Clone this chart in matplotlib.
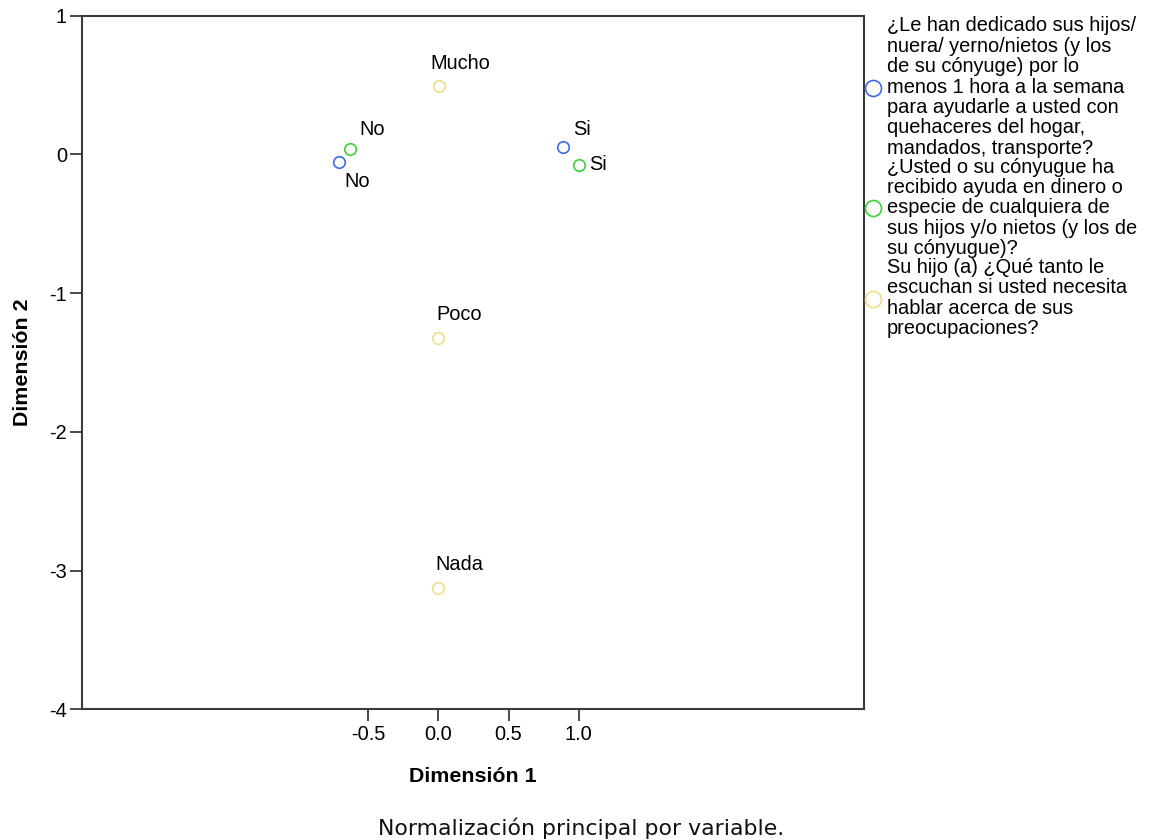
import matplotlib
matplotlib.use("Agg")
import matplotlib.pyplot as plt

# Category quantifications (principal normalization by variable)
help_cats = ["No", "Si"]
help_dim1 = [-0.707, 0.890]
help_dim2 = [-0.053, 0.056]

money_cats = ["No", "Si"]
money_dim1 = [-0.629, 1.004]
money_dim2 = [0.039, -0.076]

listen_cats = ["Mucho", "Poco", "Nada"]
listen_dim1 = [0.005, -0.004, -0.004]
listen_dim2 = [0.495, -1.322, -3.124]

var_labels = [
    "¿Le han dedicado sus hijos/\nnuera/ yerno/nietos (y los\nde su cónyuge) por lo\n"
    "menos 1 hora a la semana\npara ayudarle a usted con\nquehaceres del hogar,\n"
    "mandados, transporte?",
    "¿Usted o su cónyugue ha\nrecibido ayuda en dinero o\nespecie de cualquiera de\n"
    "sus hijos y/o nietos (y los de\nsu cónyugue)?",
    "Su hijo (a) ¿Qué tanto le\nescuchan si usted necesita\nhablar acerca de sus\n"
    "preocupaciones?",
]

x_ticks = [-0.5, 0.0, 0.5, 1.0]
y_ticks = [-4, -3, -2, -1, 0, 1]

colors = ["#4169e6", "#3cd23c", "#efdf86"]

# label offsets (points) for each category label relative to its marker
help_offsets = [(3.6, -14.4), (6.8, 12.0)]
money_offsets = [(6.7, 13.7), (6.8, 0.0)]
listen_offsets = [(-6.5, 16.1), (-0.7, 17.0), (-1.4, 17.0)]

plt.rcParams["font.family"] = ["Liberation Sans", "DejaVu Sans"]
FS = 14.4
SPINE = "#3a3a3a"

fig = plt.figure(figsize=(11.55, 8.4), dpi=100)
W, H = 1155, 840
ax = fig.add_axes([82.3 / W, 1 - 709.3 / H, 782 / W, 693.6 / H])

groups = [
    (help_cats, help_dim1, help_dim2, help_offsets, colors[0], var_labels[0]),
    (money_cats, money_dim1, money_dim2, money_offsets, colors[1], var_labels[1]),
    (listen_cats, listen_dim1, listen_dim2, listen_offsets, colors[2], var_labels[2]),
]

handles = []
for cats, xs, ys, offs, col, lab in groups:
    ln, = ax.plot(xs, ys, linestyle="none", marker="o", markersize=8.3,
                  markerfacecolor="none", markeredgecolor=col,
                  markeredgewidth=1.2, label=lab)
    handles.append(ln)
    for c, x, y, (dx, dy) in zip(cats, xs, ys, offs):
        ax.annotate(c, (x, y), xytext=(dx, dy), textcoords="offset points",
                    ha="left", va="center", fontsize=FS, color="black")

ax.set_xlim(-2.536, 3.034)
ax.set_ylim(-4, 1)
ax.set_xticks(x_ticks)
ax.set_xticklabels([f"{v:.1f}" for v in x_ticks])
ax.set_yticks(y_ticks)
ax.set_yticklabels([str(v) for v in y_ticks])

for s in ax.spines.values():
    s.set_color(SPINE)
    s.set_linewidth(1.5)
ax.tick_params(direction="out", length=8.6, width=1.3, color=SPINE,
               labelsize=FS, labelcolor="black", pad=2.5)

ax.set_xlabel("Dimensión 1", fontsize=FS + 1, fontweight="bold", va="center")
ax.xaxis.set_label_coords(0.5, -0.0965)
ax.set_ylabel("Dimensión 2", fontsize=FS + 1, fontweight="bold", va="center")
ax.yaxis.set_label_coords(-0.0771, 0.5)

leg = ax.legend(handles=handles, loc="upper left",
                bbox_to_anchor=(863 / W, 1 - 16.5 / H),
                bbox_transform=fig.transFigure,
                frameon=False, fontsize=FS, borderpad=0, borderaxespad=0,
                labelspacing=0.0, handlelength=1.0, handletextpad=0.2,
                markerscale=1.39)
for t in leg.get_texts():
    t.set_linespacing(1.09)

fig.text(581 / W, 1 - 828 / H, "Normalización principal por variable.",
         ha="center", va="center", fontsize=15.8, family="DejaVu Sans",
         color="#111111")

fig.savefig("out.png", dpi=100)
